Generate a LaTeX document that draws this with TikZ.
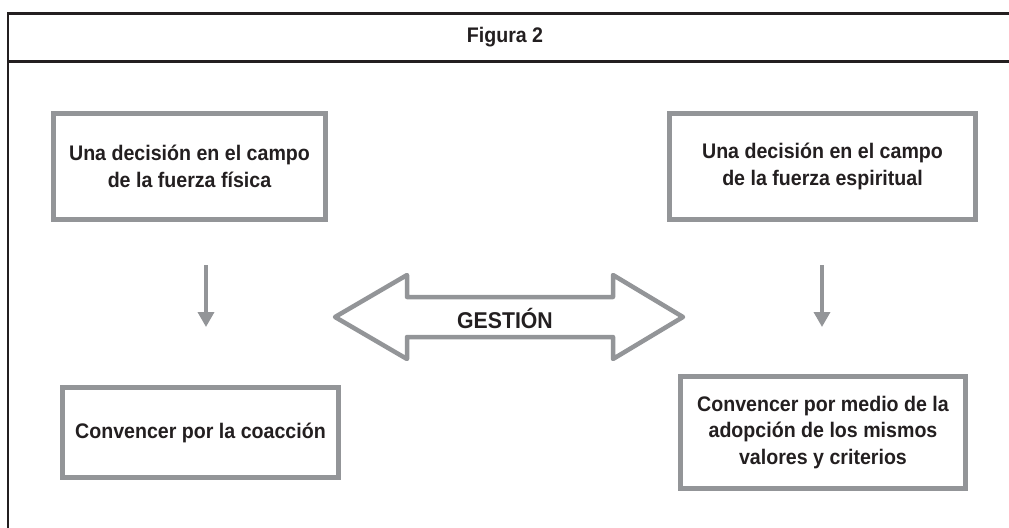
\documentclass[tikz,border=0pt]{standalone}
\usepackage{fontspec}
\setmainfont{Liberation Sans}[FakeStretch=0.93]
\usetikzlibrary{arrows.meta}

\definecolor{tinta}{HTML}{231F20}
\definecolor{gris}{HTML}{939598}

\tikzset{
  casilla/.style={draw=gris,line width=0.1cm,fill=white,align=center,
    inner sep=0pt,text=tinta,font=\bfseries\fontsize{12}{15}\selectfont},
  marco/.style={draw=tinta,line width=0.06cm},
  bajada/.style={draw=gris,line width=0.07cm,
    -{Triangle[width=0.32cm,length=0.3cm]}},
  flechadoble/.style={draw=gris,line width=0.09cm,line join=round}
}

\begin{document}
\begin{tikzpicture}[x=0.02cm,y=-0.02cm]
        \useasboundingbox (0,0) rectangle (1009,528);
        % marco
        \draw[marco] (1009,13) -- (8,13) -- (8,528);
        \draw[marco] (8,61) -- (1009,61);
        \node[text=tinta,font=\bfseries\fontsize{12}{15}\selectfont] (titulo) at (505,37) {Figura 2};
        % casillas
        \node[casilla,minimum width=5.44cm,minimum height=2.12cm] (fisica) at (189.5,166.5)
          {Una decisión en el campo\\de la fuerza física};
        \node[casilla,minimum width=6.12cm,minimum height=2.12cm] (espiritual) at (822.5,166.5)
          {Una decisión en el campo\\de la fuerza espiritual};
        \node[casilla,minimum width=5.52cm,minimum height=1.8cm] (coaccion) at (200.5,432.5)
          {Convencer por la coacción};
        \node[casilla,minimum width=5.7cm,minimum height=2.24cm] (valores) at (823,432.5)
          {Convencer por medio de la\\adopción de los mismos\\valores y criterios};
        % flechas
        \coordinate (fisica s) at (206,265);
        \coordinate (coaccion n) at (206,327);
        \coordinate (espiritual s) at (822,265);
        \coordinate (valores n) at (822,327);
        \draw[bajada] (fisica s) -- (coaccion n);
        \draw[bajada] (espiritual s) -- (valores n);
        % gestion
        \draw[flechadoble] (335,317) -- (407,275) -- (407,297) -- (613,297) -- (613,275)
          -- (683,317) -- (613,359) -- (613,337) -- (407,337) -- (407,359) -- cycle;
        \node[text=tinta,font=\bfseries\fontsize{13}{15}\selectfont,anchor=base] (gestion) at (505,328) {GESTIÓN};
\end{tikzpicture}
\end{document}
